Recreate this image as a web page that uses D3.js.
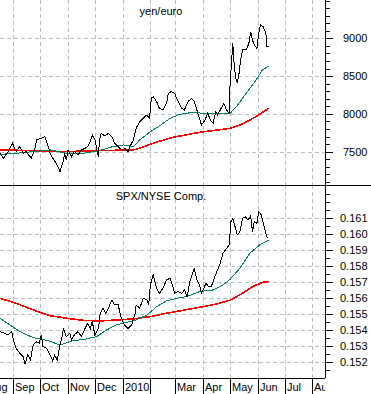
<!DOCTYPE html>
<html>
<head>
<meta charset="utf-8">
<script src="https://cdn.jsdelivr.net/npm/d3@7"></script>
<style>
  body { margin: 0; background: #fff; }
  svg { display: block; font-family: "Liberation Sans", Arial, sans-serif; }
</style>
</head>
<body>
<script>
// yen/euro ratio and its two moving averages
var yenEuro = [
  ["2009-08-17",7479],["2009-08-21",7412],["2009-08-26",7501],["2009-08-31",7611],["2009-09-04",7501],
  ["2009-09-08",7567],["2009-09-12",7479],["2009-09-15",7501],["2009-09-21",7412],["2009-09-25",7545],
  ["2009-09-27",7655],["2009-10-02",7677],["2009-10-06",7699],["2009-10-10",7567],["2009-10-12",7479],
  ["2009-10-15",7412],["2009-10-19",7346],["2009-10-23",7236],["2009-10-27",7390],["2009-10-28",7479],
  ["2009-10-30",7390],["2009-11-01",7523],["2009-11-05",7434],["2009-11-08",7501],["2009-11-12",7457],
  ["2009-11-16",7523],["2009-11-20",7545],["2009-11-23",7567],["2009-11-25",7611],["2009-11-28",7721],
  ["2009-12-01",7655],["2009-12-03",7545],["2009-12-05",7434],["2009-12-06",7655],["2009-12-08",7743],
  ["2009-12-12",7708],["2009-12-16",7743],["2009-12-20",7699],["2009-12-23",7611],["2009-12-27",7567],
  ["2009-12-31",7523],["2010-01-04",7545],["2010-01-07",7501],["2010-01-09",7567],["2010-01-13",7655],
  ["2010-01-16",7809],["2010-01-20",7897],["2010-01-24",7942],["2010-01-28",7986],["2010-01-31",7942],
  ["2010-02-02",8206],["2010-02-04",8228],["2010-02-08",8162],["2010-02-11",8074],["2010-02-15",8052],
  ["2010-02-19",8140],["2010-02-21",8272],["2010-02-24",8294],["2010-02-28",8272],["2010-03-04",8162],
  ["2010-03-08",8074],["2010-03-11",8052],["2010-03-15",8162],["2010-03-19",8206],["2010-03-22",8162],
  ["2010-03-26",8008],["2010-03-30",7853],["2010-04-03",7920],["2010-04-06",8008],["2010-04-09",7920],
  ["2010-04-12",7875],["2010-04-15",8030],["2010-04-17",7986],["2010-04-21",8074],["2010-04-24",8140],
  ["2010-04-27",8052],["2010-04-30",8008],["2010-05-01",8405],["2010-05-04",8934],["2010-05-05",8735],
  ["2010-05-07",8493],["2010-05-09",8405],["2010-05-11",8537],["2010-05-13",8735],["2010-05-15",8846],
  ["2010-05-19",8846],["2010-05-22",8934],["2010-05-24",9088],["2010-05-26",8978],["2010-05-28",8912],
  ["2010-05-31",8868],["2010-06-02",9066],["2010-06-04",9176],["2010-06-07",9154],["2010-06-10",9066],
  ["2010-06-11",8890],["2010-06-13",8890]
];
var yenShortMA = [
  ["2009-08-17",7465],["2009-09-04",7479],["2009-09-23",7501],["2009-10-12",7523],["2009-10-30",7479],
  ["2009-11-18",7479],["2009-12-06",7514],["2009-12-21",7567],["2010-01-02",7589],["2010-01-13",7567],
  ["2010-01-20",7655],["2010-02-01",7765],["2010-02-11",7840],["2010-02-23",7942],["2010-03-06",7995],
  ["2010-03-21",8021],["2010-04-01",8008],["2010-04-16",8008],["2010-05-01",8008],["2010-05-08",8096],
  ["2010-05-19",8272],["2010-05-30",8449],["2010-06-06",8581],["2010-06-13",8634]
];
var yenLongMA = [
  ["2009-08-17",7523],["2009-09-23",7514],["2009-10-30",7501],["2009-12-06",7514],["2010-01-13",7523],
  ["2010-01-20",7545],["2010-02-04",7611],["2010-02-26",7690],["2010-03-28",7756],["2010-05-01",7809],
  ["2010-05-15",7867],["2010-05-30",7964],["2010-06-13",8074]
];

// SPX / NYSE Composite ratio and its two moving averages
var spxNyse = [
  ["2009-08-17",0.15391],["2009-08-22",0.15380],["2009-08-26",0.15370],["2009-08-30",0.15391],["2009-09-01",0.15339],
  ["2009-09-04",0.15287],["2009-09-08",0.15256],["2009-09-12",0.15235],["2009-09-14",0.15190],["2009-09-17",0.15246],
  ["2009-09-20",0.15214],["2009-09-23",0.15308],["2009-09-27",0.15328],["2009-09-30",0.15318],["2009-10-02",0.15370],
  ["2009-10-04",0.15297],["2009-10-08",0.15287],["2009-10-12",0.15246],["2009-10-15",0.15208],["2009-10-17",0.15246],
  ["2009-10-20",0.15214],["2009-10-23",0.15308],["2009-10-25",0.15349],["2009-10-27",0.15411],["2009-10-30",0.15360],
  ["2009-11-03",0.15380],["2009-11-05",0.15339],["2009-11-08",0.15370],["2009-11-12",0.15391],["2009-11-16",0.15360],
  ["2009-11-20",0.15411],["2009-11-23",0.15443],["2009-11-26",0.15411],["2009-11-28",0.15453],["2009-12-01",0.15370],
  ["2009-12-05",0.15411],["2009-12-07",0.15505],["2009-12-10",0.15536],["2009-12-13",0.15505],["2009-12-16",0.15536],
  ["2009-12-20",0.15588],["2009-12-23",0.15557],["2009-12-27",0.15557],["2009-12-30",0.15484],["2010-01-03",0.15432],
  ["2010-01-07",0.15411],["2010-01-11",0.15432],["2010-01-15",0.15505],["2010-01-16",0.15557],["2010-01-20",0.15536],
  ["2010-01-24",0.15598],["2010-01-28",0.15588],["2010-01-30",0.15557],["2010-02-01",0.15681],["2010-02-04",0.15747],
  ["2010-02-08",0.15660],["2010-02-11",0.15629],["2010-02-15",0.15660],["2010-02-19",0.15712],["2010-02-23",0.15723],
  ["2010-02-26",0.15671],["2010-02-28",0.15629],["2010-03-04",0.15640],["2010-03-08",0.15629],["2010-03-11",0.15650],
  ["2010-03-14",0.15608],["2010-03-17",0.15702],["2010-03-20",0.15754],["2010-03-22",0.15781],["2010-03-25",0.15712],
  ["2010-03-28",0.15681],["2010-03-30",0.15629],["2010-04-01",0.15650],["2010-04-04",0.15691],["2010-04-07",0.15671],
  ["2010-04-10",0.15671],["2010-04-14",0.15733],["2010-04-17",0.15774],["2010-04-20",0.15816],["2010-04-23",0.15878],
  ["2010-04-27",0.15909],["2010-04-30",0.15930],["2010-05-02",0.16075],["2010-05-04",0.16096],["2010-05-07",0.16034],
  ["2010-05-09",0.15992],["2010-05-12",0.16013],["2010-05-15",0.16096],["2010-05-18",0.16106],["2010-05-21",0.16085],
  ["2010-05-24",0.16112],["2010-05-26",0.16013],["2010-05-28",0.16075],["2010-05-31",0.16065],["2010-06-02",0.16137],
  ["2010-06-05",0.16117],["2010-06-07",0.16065],["2010-06-09",0.16023],["2010-06-11",0.15982],["2010-06-13",0.15971]
];
var spxShortMA = [
  ["2009-08-17",0.15474],["2009-08-28",0.15432],["2009-09-08",0.15391],["2009-09-23",0.15353],["2009-10-08",0.15337],
  ["2009-10-23",0.15308],["2009-11-06",0.15333],["2009-11-21",0.15345],["2009-12-03",0.15360],["2009-12-14",0.15401],
  ["2009-12-25",0.15432],["2010-01-05",0.15447],["2010-01-16",0.15463],["2010-01-28",0.15494],["2010-02-08",0.15546],
  ["2010-02-19",0.15582],["2010-03-02",0.15598],["2010-03-13",0.15608],["2010-03-28",0.15640],["2010-04-12",0.15650],
  ["2010-04-23",0.15681],["2010-05-01",0.15716],["2010-05-12",0.15785],["2010-05-23",0.15878],["2010-06-03",0.15930],
  ["2010-06-13",0.15961]
];
var spxLongMA = [
  ["2009-08-17",0.15598],["2009-09-04",0.15567],["2009-09-23",0.15526],["2009-10-12",0.15490],["2009-10-30",0.15474],
  ["2009-11-18",0.15461],["2009-12-06",0.15457],["2009-12-25",0.15463],["2010-01-13",0.15470],["2010-02-01",0.15484],
  ["2010-02-19",0.15505],["2010-03-09",0.15523],["2010-03-28",0.15542],["2010-04-16",0.15563],["2010-05-01",0.15586],
  ["2010-05-15",0.15629],["2010-05-26",0.15671],["2010-06-07",0.15698],["2010-06-13",0.15702]
];

var monthLabels = ["Aug", "Sep", "Oct", "Nov", "Dec", "2010", "", "Mar", "Apr", "May", "Jun", "Jul", "Aug"];
var yenTicks = [7500, 8000, 8500, 9000];
var spxTicks = [0.152, 0.153, 0.154, 0.155, 0.156, 0.157, 0.158, 0.159, 0.160, 0.161];

var width = 371, height = 394, plotRight = 325;
var parse = d3.timeParse("%Y-%m-%d");

var svg = d3.select("body").append("svg").attr("width", width).attr("height", height);

var x = d3.scaleTime()
      .domain([new Date(2009, 7, 17), new Date(2010, 7, 15)])
      .range([0, plotRight]);

var months = d3.timeMonths(new Date(2009, 7, 1), new Date(2010, 7, 2));

var panels = [
  { title: "yen/euro", top: 0, bottom: 185, domain: [7059, 9507], ticks: yenTicks, minorStep: 100,
    fmt: d3.format("d"), labelX: 343, series: [yenEuro, yenShortMA, yenLongMA] },
  { title: "SPX/NYSE Comp.", top: 185, bottom: 378, domain: [0.15102, 0.16303], ticks: spxTicks, minorStep: 0.0005,
    fmt: d3.format(".3f"), labelX: 340, series: [spxNyse, spxShortMA, spxLongMA] }
];
var seriesStyle = [
  { color: "#000000", w: 1 },
  { color: "#008066", w: 1 },
  { color: "#ff0000", w: 1.6 }
];

panels.forEach(function (p, i) {
      var y = d3.scaleLinear().domain(p.domain).range([p.bottom, p.top]);
      var g = svg.append("g").attr("class", "panel" + i);

      g.append("clipPath").attr("id", "clip" + i)
            .append("rect").attr("x", 0).attr("y", p.top).attr("width", plotRight).attr("height", p.bottom - p.top);

      // dashed grid
      var grid = g.append("g").attr("stroke", "#bdbdbd").attr("stroke-dasharray", "4,3")
            .attr("shape-rendering", "crispEdges").attr("clip-path", "url(#clip" + i + ")");
      grid.selectAll("line.v").data(months).enter().append("line")
            .attr("x1", function (d) { return Math.round(x(d)) + 0.5; })
            .attr("x2", function (d) { return Math.round(x(d)) + 0.5; })
            .attr("y1", p.top).attr("y2", p.bottom);
      grid.selectAll("line.h").data(p.ticks).enter().append("line")
            .attr("x1", 0).attr("x2", plotRight)
            .attr("y1", function (d) { return Math.round(y(d)) + 0.5; })
            .attr("y2", function (d) { return Math.round(y(d)) + 0.5; });

      g.append("text").attr("x", 161).attr("y", p.top + 15)
            .attr("text-anchor", "middle").attr("font-size", 11).attr("fill", "#000")
            .text(p.title);

      var line = d3.line()
            .x(function (d) { return x(parse(d[0])); })
            .y(function (d) { return y(d[1]); });

      // draw moving averages first, price ratio on top
      [2, 1, 0].forEach(function (s) {
            g.append("path")
                  .attr("clip-path", "url(#clip" + i + ")")
                  .attr("fill", "none")
                  .attr("stroke", seriesStyle[s].color)
                  .attr("stroke-width", seriesStyle[s].w)
                  .attr("shape-rendering", "crispEdges")
                  .attr("d", line(p.series[s]));
      });

      // right axis with minor ticks
      var minor = d3.range(Math.ceil(p.domain[0] / p.minorStep), Math.floor(p.domain[1] / p.minorStep) + 1)
            .map(function (k) { return k * p.minorStep; });
      var ax = g.append("g").attr("stroke", "#000").attr("shape-rendering", "crispEdges");
      ax.selectAll("line").data(minor).enter().append("line")
            .attr("x1", plotRight).attr("x2", function (d) {
                  var isMajor = p.ticks.some(function (t) { return Math.abs(t - d) < p.minorStep / 10; });
                  return plotRight + (isMajor ? 8 : 5);
            })
            .attr("y1", function (d) { return Math.round(y(d)) + 0.5; })
            .attr("y2", function (d) { return Math.round(y(d)) + 0.5; });

      g.selectAll("text.tick").data(p.ticks).enter().append("text")
            .attr("class", "tick")
            .attr("x", p.labelX).attr("y", function (d) { return y(d) + 4; })
            .attr("font-size", 11).attr("fill", "#000")
            .text(function (d) { return p.fmt(d); });
});

// frame lines
svg.append("line").attr("x1", plotRight + 0.5).attr("x2", plotRight + 0.5).attr("y1", 0).attr("y2", 378)
      .attr("stroke", "#000").attr("shape-rendering", "crispEdges");
svg.append("line").attr("x1", 0).attr("x2", width).attr("y1", 185.5).attr("y2", 185.5)
      .attr("stroke", "#000").attr("shape-rendering", "crispEdges");
svg.append("line").attr("x1", 0).attr("x2", plotRight).attr("y1", 378.5).attr("y2", 378.5)
      .attr("stroke", "#000").attr("shape-rendering", "crispEdges");

// month axis
svg.append("clipPath").attr("id", "clipx")
      .append("rect").attr("x", 0).attr("y", 378).attr("width", plotRight).attr("height", 16);
var xa = svg.append("g").attr("clip-path", "url(#clipx)");
xa.selectAll("line").data(months).enter().append("line")
      .attr("x1", function (d) { return Math.round(x(d)) + 0.5; })
      .attr("x2", function (d) { return Math.round(x(d)) + 0.5; })
      .attr("y1", 378).attr("y2", 394)
      .attr("stroke", "#000").attr("shape-rendering", "crispEdges");
xa.selectAll("text").data(months).enter().append("text")
      .attr("x", function (d) { return Math.round(x(d)) + 2; })
      .attr("y", 391)
      .attr("font-size", 11).attr("fill", "#000")
      .text(function (d, k) { return monthLabels[k]; });
</script>
</body>
</html>
